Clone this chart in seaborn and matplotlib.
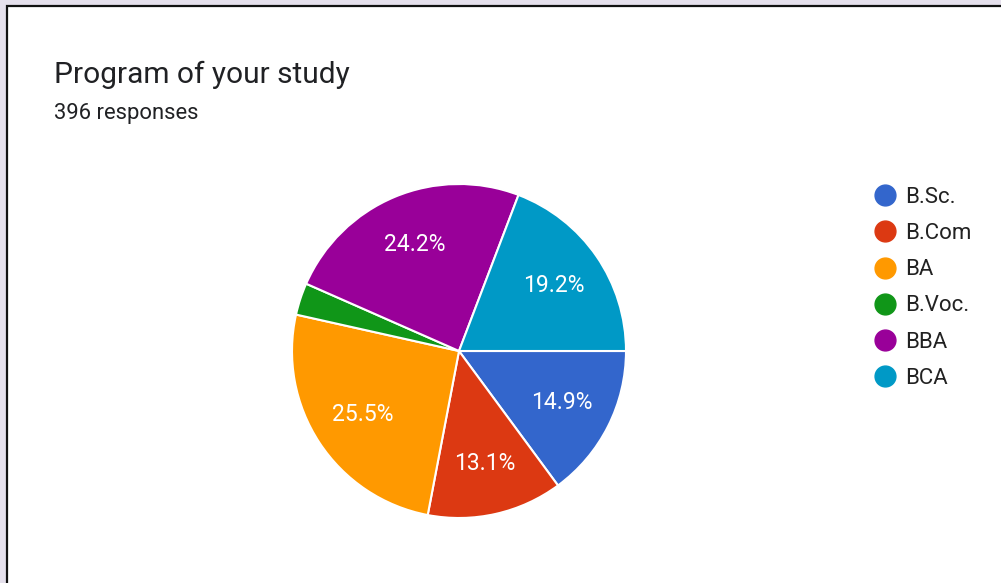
import matplotlib
matplotlib.use('Agg')
import matplotlib.pyplot as plt
from matplotlib.lines import Line2D
from matplotlib.patches import Rectangle
import seaborn as sns

# Data
programs = ['B.Sc.', 'B.Com', 'BA', 'B.Voc.', 'BBA', 'BCA']
shares = [14.9, 13.1, 25.5, 3.1, 24.2, 19.2]
colors = ['#3366cc', '#dc3912', '#ff9900', '#109618', '#990099', '#0099c6']
title = 'Program of your study'
subtitle = '396 responses'

sns.set_theme(style='white')
plt.rcParams['font.family'] = ['Roboto', 'DejaVu Sans']

fig = plt.figure(figsize=(10.01, 5.83), dpi=100)
fig.patch.set_facecolor('#e5e0ec')

# white card with dark frame
card = Rectangle((7 / 1001, -0.02), 1.1, 1 - 6 / 583 + 0.02,
                 transform=fig.transFigure, facecolor='white',
                 edgecolor='#111111', linewidth=1.6, zorder=-5)
fig.patches.append(card)

fig.text(54 / 1001, 1 - 83 / 583, title, fontsize=21.5, color='#202124')
fig.text(54 / 1001, 1 - 119 / 583, subtitle, fontsize=15.8, color='#202124')

ax = fig.add_axes([292 / 1001, 65 / 583, 334 / 1001, 334 / 583])
ax.set_facecolor('none')

def fmt(p):
    return f'{p:.1f}%' if p >= 5 else ''

wedges, _, autotexts = ax.pie(
    shares, colors=colors, startangle=0, counterclock=False,
    autopct=fmt, pctdistance=0.69,
    wedgeprops=dict(edgecolor='white', linewidth=1.5),
    textprops=dict(color='white', fontsize=16.5))
ax.set_aspect('equal')
ax.set_xlim(-1, 1)
ax.set_ylim(-1, 1)

handles = [Line2D([0], [0], marker='o', linestyle='none', markersize=15,
                  markerfacecolor=c, markeredgecolor=c) for c in colors]
fig.legend(handles, programs, loc='upper left',
           bbox_to_anchor=(863 / 1001, 1 - 176 / 583),
           frameon=False, fontsize=16, labelspacing=0.68,
           handletextpad=0.38, handlelength=1.0, borderpad=0,
           labelcolor='#222222')

fig.savefig('out.png', dpi=100)
